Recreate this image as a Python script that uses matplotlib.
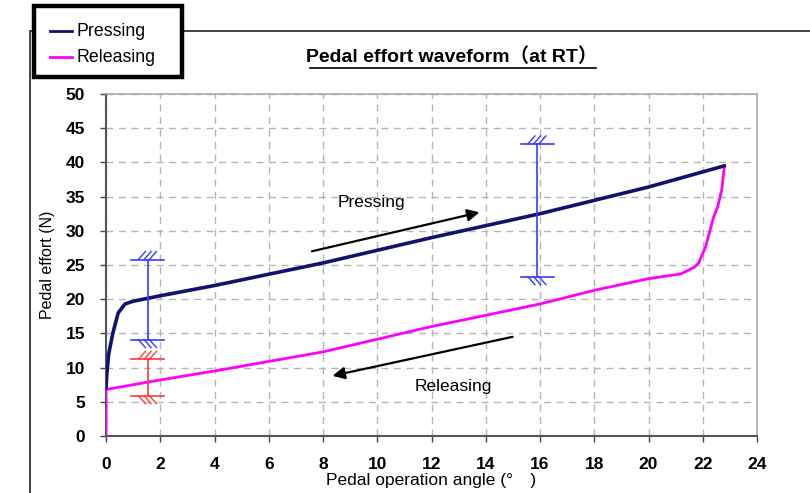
import matplotlib
matplotlib.use("Agg")
import matplotlib.pyplot as plt
import matplotlib.transforms as mtransforms
from matplotlib.lines import Line2D
from matplotlib.patches import Rectangle

plt.rcParams['font.family'] = ['Liberation Sans', 'Noto Sans CJK JP', 'DejaVu Sans']

# ---- data ----
press_x = [0.0, 0.03, 0.1, 0.25, 0.45, 0.7, 1.0, 2.0, 4.0, 8.0, 12.0, 16.0, 20.0, 22.8]
press_y = [7.0, 9.0, 12.0, 15.0, 18.0, 19.3, 19.7, 20.5, 22.0, 25.3, 29.0, 32.5, 36.4, 39.5]

rel_x = [22.8, 22.7, 22.55, 22.4, 22.1, 21.85, 21.7, 21.2, 20.0, 18.0, 16.0, 12.0, 8.0, 4.0, 2.0, 0.0, 0.0]
rel_y = [39.5, 36.0, 33.5, 32.0, 27.6, 25.3, 24.7, 23.7, 23.0, 21.3, 19.3, 16.0, 12.3, 9.5, 8.2, 6.8, 0.0]

# variation bars: (x, low, high)
blue_bars = [(1.54, 14.1, 25.8), (15.9, 23.3, 42.7)]
red_bars = [(1.54, 5.9, 11.2)]

x_ticks = list(range(0, 25, 2))
y_ticks = list(range(0, 51, 5))

series_names = ["Pressing", "Releasing"]
title = "Pedal effort waveform（at RT）"
xlabel = "Pedal operation angle (°　)"
ylabel = "Pedal effort (N)"

press_color = "#12126e"
rel_color = "#ff00ff"
blue_c = "#3a3aff"
red_c = "#ff3a3a"

W, H = 810, 493
fig = plt.figure(figsize=(W/100, H/100), dpi=100)
ax = fig.add_axes([106/W, 1-436/H, (757-106)/W, (436-94)/H])

ax.set_xlim(0, 24)
ax.set_ylim(0, 50)
ax.set_xticks(x_ticks)
ax.set_yticks(y_ticks)
ax.tick_params(axis='both', labelsize=12.5, length=4, width=1, color='#444444', pad=11)
for lbl in ax.get_xticklabels() + ax.get_yticklabels():
    lbl.set_fontweight('bold')
ax.grid(True, color='#b5b5b5', linestyle=(0, (5, 4)), linewidth=1)
for s in ['left', 'bottom']:
    ax.spines[s].set_color('#555555')
    ax.spines[s].set_linewidth(1.5)
for s in ['top', 'right']:
    ax.spines[s].set_color('#aaaaaa')
    ax.spines[s].set_linewidth(1.2)

ax.plot(press_x, press_y, color=press_color, lw=2.6, solid_joinstyle='round', solid_capstyle='round', zorder=4)
ax.plot(rel_x, rel_y, color=rel_color, lw=2.0, solid_joinstyle='round', zorder=3)


def hatch(x, y, color, up=True):
    trans = fig.dpi_scale_trans + mtransforms.ScaledTranslation(x, y, ax.transData)
    for dx in (-0.094, -0.037, 0.016):
        dy = 0.08 if up else -0.08
        ax.add_line(Line2D([dx, dx + 0.07], [0, dy], color=color, lw=1, transform=trans, clip_on=False, zorder=5))


def varbar(x, lo, hi, color):
    ax.plot([x, x], [lo, hi], color=color, lw=1.2, zorder=5)
    cap = 0.6
    ax.plot([x - cap, x + cap], [lo, lo], color=color, lw=1.2, zorder=5)
    ax.plot([x - cap, x + cap], [hi, hi], color=color, lw=1.2, zorder=5)
    hatch(x, hi, color, up=True)
    hatch(x, lo, color, up=False)


for b in blue_bars:
    varbar(*b, blue_c)
for b in red_bars:
    varbar(*b, red_c)

ax.annotate("", xy=(13.77, 32.7), xytext=(7.59, 27.0),
            arrowprops=dict(arrowstyle='-|>', color='black', lw=1.6, mutation_scale=18, shrinkA=0, shrinkB=0))
ax.annotate("", xy=(8.35, 8.8), xytext=(14.99, 14.5),
            arrowprops=dict(arrowstyle='-|>', color='black', lw=1.6, mutation_scale=18, shrinkA=0, shrinkB=0))
ax.text(9.8, 34.1, "Pressing", fontsize=12.5, ha='center', va='center')
ax.text(12.8, 7.2, "Releasing", fontsize=12.5, ha='center', va='center')

ax.set_xlabel(xlabel, fontsize=12.5, labelpad=1)
ax.set_ylabel(ylabel, fontsize=11.5, labelpad=8)

fig.text(452/W, 1-57/H, title, fontsize=14, fontweight='bold', ha='center', va='center')
# underline
fig.add_artist(Line2D([310/W, 596/W], [1-68/H, 1-68/H], color='black', lw=1.2, transform=fig.transFigure))

# outer frame
fig.add_artist(Rectangle((30/W, -0.1), 1.0, 1 - 31/H + 0.1, transform=fig.transFigure,
                         fill=False, edgecolor='#222222', lw=1.2))

# legend box (drawn manually for exact placement)
fig.add_artist(Rectangle((34/W, 1-77/H), (182-34)/W, (77-6)/H, transform=fig.transFigure,
                         facecolor='white', edgecolor='black', lw=3.2, zorder=10))
for i, (name, col) in enumerate(zip(series_names, [press_color, rel_color])):
    yy = 1 - (31 + 26*i)/H
    fig.add_artist(Line2D([50/W, 72/W], [yy, yy], color=col, lw=2, transform=fig.transFigure, zorder=11))
    fig.text(77/W, yy, name, fontsize=12.8, ha='left', va='center', zorder=11)

fig.savefig("out.png", dpi=100)
